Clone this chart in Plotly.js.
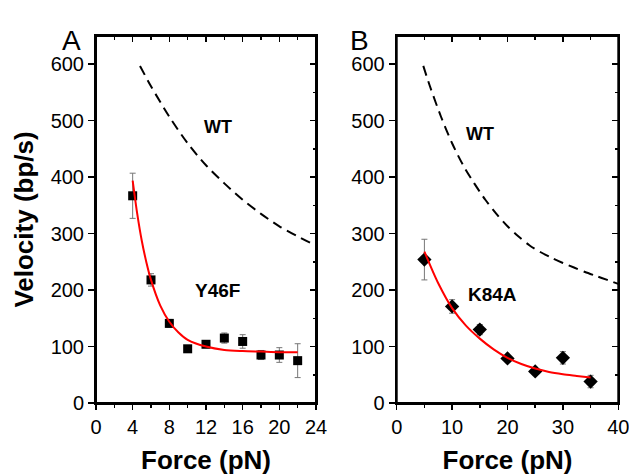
<!DOCTYPE html>
<html>
<head>
<meta charset="utf-8">
<script src="https://cdn.plot.ly/plotly-3.0.1.min.js"></script>
<style>html,body{margin:0;padding:0;background:#fff;}#chart{width:629px;height:476px;}</style>
</head>
<body>
<div id="chart"></div>
<script>
// Panel A: Y46F
const forceA = [4, 6, 8, 10, 12, 14, 16, 18, 20, 22];
const velA = [367, 218, 141, 96, 104, 115, 109, 85, 85, 75];
const errA = [40, 11, 7, 5, 6, 9, 12, 8, 13, 30];
const fitAx = [4, 4.5, 5, 5.5, 6, 7, 8, 9, 10, 12, 14, 16, 18, 20, 22];
const fitAy = [394, 335, 287, 249, 218, 173, 144, 125, 112, 100, 94, 92, 91, 90, 90];

// Panel B: K84A
const forceB = [5, 10, 15, 20, 25, 30, 35];
const velB = [254, 171, 130, 79, 56, 80, 38];
const errB = [36, 12, 9, 5, 5, 11, 11];
const fitBx = [5, 7.5, 10, 12.5, 15, 17.5, 20, 22.5, 25, 27.5, 30, 32.5, 35];
const fitBy = [268, 212, 168, 137, 114, 95, 80, 69, 61, 55, 51, 48, 45];

// WT reference curve (dashed), same in both panels
const wtX = [4.8, 6, 8, 10, 12, 14, 16, 18, 20, 22, 24, 26, 28, 30, 32, 34, 36, 38, 40];
const wtY = [597, 561, 507, 460, 421, 389, 360, 335, 313, 295, 279, 267, 257, 248, 240, 232, 225, 218, 211];

const labelsA = {wt: [13.3, 488], mut: [13.2, 200], name: 'Y46F'};
const labelsB = {wt: [15.1, 476], mut: [17.3, 192], name: 'K84A'};

const FONT = 'Liberation Sans, Arial, sans-serif';
const errStyle = {type: 'data', visible: true, color: '#777', thickness: 1, width: 3};

const traces = [
  {x: wtX, y: wtY, xaxis: 'x', yaxis: 'y', mode: 'lines', line: {color: '#000', width: 2, dash: '10px,6px', shape: 'spline', smoothing: 0.8}},
  {x: forceA, y: velA, xaxis: 'x', yaxis: 'y', mode: 'markers', marker: {symbol: 'square', size: 9, color: '#000'}, error_y: Object.assign({array: errA}, errStyle)},
  {x: fitAx, y: fitAy, xaxis: 'x', yaxis: 'y', mode: 'lines', line: {color: '#ff0000', width: 2, shape: 'spline', smoothing: 0.8}},
  {x: wtX, y: wtY, xaxis: 'x2', yaxis: 'y2', mode: 'lines', line: {color: '#000', width: 2, dash: '10px,6px', shape: 'spline', smoothing: 0.8}},
  {x: forceB, y: velB, xaxis: 'x2', yaxis: 'y2', mode: 'markers', marker: {symbol: 'diamond', size: 11, color: '#000'}, error_y: Object.assign({array: errB}, errStyle)},
  {x: fitBx, y: fitBy, xaxis: 'x2', yaxis: 'y2', mode: 'lines', line: {color: '#ff0000', width: 2, shape: 'spline', smoothing: 0.8}},
  // invisible carriers for the top/right inside-tick axes
  {x: forceA, y: velA, xaxis: 'x3', yaxis: 'y3', mode: 'markers', marker: {opacity: 0}, hoverinfo: 'skip'},
  {x: forceB, y: velB, xaxis: 'x4', yaxis: 'y4', mode: 'markers', marker: {opacity: 0}, hoverinfo: 'skip'}
];

const xdA = [96/629, 316/629];
const xdB = [396.7/629, 618.3/629];
const yd = [1 - 403/476, 1 - 36/476];
const tickFont = {family: FONT, size: 20, color: '#000'};
const titleFont = {family: FONT, size: 26, color: '#000', weight: 'bold'};

function bottomX(domain, range, dtick, minorDtick, anchor) {
  return {domain: domain, range: range, anchor: anchor, dtick: dtick, tick0: 0, mirror: true,
    showline: true, linewidth: 2, linecolor: '#000', showgrid: false, zeroline: false,
    ticks: 'outside', ticklen: 5, tickwidth: 1.5, tickcolor: '#000', tickfont: tickFont, ticklabeloverflow: 'allow',
    minor: {dtick: minorDtick, ticks: 'outside', ticklen: 3, tickwidth: 1.5, tickcolor: '#000', showgrid: false},
    title: {text: 'Force (pN)', font: titleFont, standoff: 14}};
}
function topX(domain, range, dtick, minorDtick) {
  return {domain: domain, range: range, anchor: 'free', position: yd[1], side: 'top', dtick: dtick, tick0: 0,
    showline: false, showgrid: false, zeroline: false, showticklabels: false,
    ticks: 'inside', ticklen: 5, tickwidth: 1.5, tickcolor: '#000',
    minor: {dtick: minorDtick, ticks: 'inside', ticklen: 3, tickwidth: 1.5, tickcolor: '#000', showgrid: false}};
}
function leftY(anchor, withTitle) {
  const ax = {domain: yd, range: [0, 650], anchor: anchor, dtick: 100, tick0: 0, mirror: true,
    showline: true, linewidth: 2, linecolor: '#000', showgrid: false, zeroline: false,
    ticks: 'outside', ticklen: 6, tickwidth: 1.5, tickcolor: '#000', tickfont: tickFont, ticklabeloverflow: 'allow'};
  if (withTitle) ax.title = {text: 'Velocity (bp/s)', font: titleFont, standoff: 10};
  return ax;
}
function rightY(pos) {
  return {domain: yd, range: [0, 650], anchor: 'free', position: pos, side: 'right', dtick: 100, tick0: 0,
    showline: false, showgrid: false, zeroline: false, showticklabels: false,
    ticks: 'inside', ticklen: 6, tickwidth: 1.5, tickcolor: '#000',
    minor: {dtick: 50, ticks: 'inside', ticklen: 3, tickwidth: 1.5, tickcolor: '#000', showgrid: false}};
}
function txt(x, y, xref, yref, text, size, bold) {
  return {x: x, y: y, xref: xref, yref: yref, text: text, showarrow: false,
    font: {family: FONT, size: size, color: '#000', weight: bold ? 'bold' : 'normal'}, xanchor: 'center', yanchor: 'middle'};
}
function frame(xr, yr) {
  return {type: 'rect', xref: xr + ' domain', yref: yr + ' domain', x0: 0, x1: 1, y0: 0, y1: 1,
    line: {color: '#000', width: 2}, fillcolor: 'rgba(0,0,0,0)', layer: 'above'};
}

const layout = {
  width: 629, height: 476,
  margin: {l: 0, r: 0, t: 0, b: 0},
  paper_bgcolor: '#fff', plot_bgcolor: 'rgba(0,0,0,0)',
  showlegend: false,
  xaxis: bottomX(xdA, [0, 24], 4, 2, 'y'),
  yaxis: leftY('x', true),
  xaxis2: bottomX(xdB, [0, 40], 10, 5, 'y2'),
  yaxis2: leftY('x2', false),
  xaxis3: topX(xdA, [0, 24], 4, 2),
  yaxis3: rightY(xdA[1]),
  xaxis4: topX(xdB, [0, 40], 10, 5),
  yaxis4: rightY(xdB[1]),
  shapes: [frame('x', 'y'), frame('x2', 'y2')],
  annotations: [
    txt(labelsA.wt[0], labelsA.wt[1], 'x', 'y', 'WT', 18, true),
    txt(labelsA.mut[0], labelsA.mut[1], 'x', 'y', labelsA.name, 19, true),
    txt(labelsB.wt[0], labelsB.wt[1], 'x2', 'y2', 'WT', 18, true),
    txt(labelsB.mut[0], labelsB.mut[1], 'x2', 'y2', labelsB.name, 19, true),
    {x: 60/629, y: 1 - 23/476, xref: 'paper', yref: 'paper', text: 'A', showarrow: false, font: {family: FONT, size: 28, color: '#000'}},
    {x: 359/629, y: 1 - 23/476, xref: 'paper', yref: 'paper', text: 'B', showarrow: false, font: {family: FONT, size: 28, color: '#000'}}
  ]
};

Plotly.newPlot('chart', traces, layout, {staticPlot: true, displayModeBar: false});
</script>
</body>
</html>
